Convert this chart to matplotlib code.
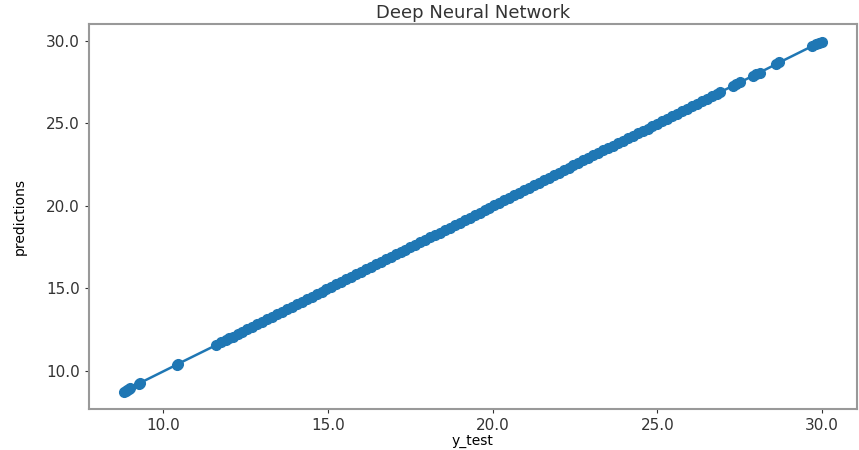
"""Deep Neural Network: predictions plotted against y_test."""

import matplotlib

matplotlib.use("Agg")
import matplotlib.pyplot as plt

# Values
y_test = [
    8.80, 8.85, 8.90, 8.95, 9.00, 9.25, 9.30, 10.40, 10.45,
    11.60, 11.75, 11.90, 12.00, 12.10, 12.25, 12.40, 12.55, 12.70, 12.85,
    13.00, 13.15, 13.30, 13.45, 13.60, 13.75, 13.90, 14.05, 14.20, 14.35,
    14.50, 14.65, 14.80, 14.95, 15.10, 15.25, 15.40, 15.55, 15.70, 15.85,
    16.00, 16.15, 16.30, 16.45, 16.60, 16.75, 16.90, 17.05, 17.20, 17.35,
    17.50, 17.65, 17.80, 17.95, 18.10, 18.25, 18.40, 18.55, 18.70, 18.85,
    19.00, 19.15, 19.30, 19.45, 19.60, 19.75, 19.90, 20.05, 20.20, 20.35,
    20.50, 20.65, 20.80, 20.95, 21.10, 21.25, 21.40, 21.55, 21.70, 21.85,
    22.00, 22.15, 22.30, 22.45, 22.60, 22.75, 22.90, 23.05, 23.20, 23.35,
    23.50, 23.65, 23.80, 23.95, 24.10, 24.25, 24.40, 24.55, 24.70, 24.85,
    25.00, 25.15, 25.30, 25.45, 25.60, 25.75, 25.90, 26.05, 26.20, 26.35,
    26.50, 26.65, 26.80, 26.90, 27.30, 27.40, 27.50, 27.90, 28.00, 28.10,
    28.60, 28.70, 29.70, 29.80, 29.90, 30.00,
]
predictions = [
    8.76, 8.82, 8.88, 8.93, 8.98, 9.22, 9.29, 10.38, 10.44,
    11.57, 11.74, 11.88, 12.01, 12.09, 12.26, 12.38, 12.56, 12.69, 12.86,
    12.99, 13.16, 13.29, 13.46, 13.59, 13.76, 13.89, 14.06, 14.19, 14.36,
    14.49, 14.66, 14.79, 14.96, 15.09, 15.26, 15.39, 15.56, 15.69, 15.86,
    15.99, 16.16, 16.29, 16.46, 16.59, 16.76, 16.89, 17.06, 17.19, 17.36,
    17.49, 17.66, 17.79, 17.96, 18.09, 18.26, 18.39, 18.56, 18.69, 18.86,
    18.99, 19.16, 19.29, 19.46, 19.59, 19.76, 19.89, 20.06, 20.19, 20.36,
    20.49, 20.66, 20.79, 20.96, 21.09, 21.26, 21.39, 21.56, 21.69, 21.86,
    21.99, 22.16, 22.29, 22.46, 22.59, 22.76, 22.89, 23.06, 23.19, 23.36,
    23.49, 23.66, 23.79, 23.96, 24.09, 24.26, 24.39, 24.56, 24.69, 24.86,
    24.99, 25.16, 25.29, 25.46, 25.59, 25.76, 25.89, 26.06, 26.19, 26.36,
    26.49, 26.66, 26.79, 26.89, 27.28, 27.39, 27.48, 27.88, 27.99, 28.08,
    28.58, 28.69, 29.68, 29.78, 29.88, 29.96,
]

fig = plt.figure(figsize=(8.59, 4.5), dpi=100)
ax = fig.add_axes([89 / 859, 41 / 450, 768 / 859, 385 / 450])

ax.plot(y_test, predictions, color="#1f77b4", marker="o", markersize=7,
        linewidth=1.8)

ax.set_title("Deep Neural Network", fontsize=13, pad=4, color="#333333")
ax.set_xlabel("y_test", fontsize=10, labelpad=1)
ax.set_ylabel("predictions", fontsize=10, labelpad=14)
ax.set_xticks([10, 15, 20, 25, 30])
ax.set_yticks([10, 15, 20, 25, 30])
ax.set_xticklabels(["10.0", "15.0", "20.0", "25.0", "30.0"])
ax.set_yticklabels(["10.0", "15.0", "20.0", "25.0", "30.0"])
ax.tick_params(labelsize=11, colors="#333333", length=3)
for spine in ax.spines.values():
    spine.set_color("#999999")
    spine.set_linewidth(1.5)

fig.savefig("out.png", dpi=100)
